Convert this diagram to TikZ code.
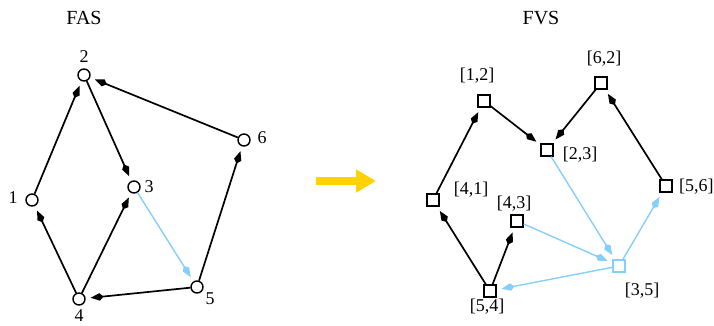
\documentclass[tikz,border=0pt]{standalone}
\usepackage{fontspec}
\setmainfont{Liberation Serif}
\usetikzlibrary{arrows.meta}
\definecolor{skyb}{RGB}{135,206,250}
\definecolor{gold}{RGB}{255,210,0}
\begin{document}
\begin{tikzpicture}[x=1bp,y=-1bp,
  vtx/.style={circle,draw=black,fill=white,line width=1.4bp,inner sep=0pt,minimum size=12bp},
  sq/.style={rectangle,draw=black,fill=white,line width=1.4bp,inner sep=0pt,minimum size=12bp},
  sqb/.style={sq,draw=skyb},
  lbl/.style={font=\fontsize{18bp}{20bp}\selectfont,inner sep=0pt},
  ttl/.style={font=\fontsize{20bp}{22bp}\selectfont,inner sep=0pt},
  edge/.style={line width=1.7bp,-{Kite[length=13bp,width=7.5bp,inset=4bp]},shorten >=5bp},
  bedge/.style={edge,draw=skyb,line width=1.4bp}]
\useasboundingbox (0,0) rectangle (714,325);
\node[ttl] (t1) at (84,18) {FAS};
\node[ttl] (t2) at (541,18) {FVS};
% left graph
\node[vtx] (n2) at (84,75) {};
\node[vtx] (n1) at (32,200) {};
\node[vtx] (n3) at (134,187) {};
\node[vtx] (n6) at (244,140) {};
\node[vtx] (n4) at (79,299) {};
\node[vtx] (n5) at (197,287) {};
\node[lbl] (l2) at (84,57) {2};
\node[lbl] (l1) at (13,198) {1};
\node[lbl] (l3) at (149,187) {3};
\node[lbl] (l6) at (262,138) {6};
\node[lbl] (l4) at (79,316) {4};
\node[lbl] (l5) at (210,299) {5};
\draw[edge] (n1) -- (n2);
\draw[edge] (n2) -- (n3);
\draw[edge] (n6) -- (n2);
\draw[edge] (n4) -- (n1);
\draw[edge] (n4) -- (n3);
\draw[edge] (n5) -- (n4);
\draw[edge] (n5) -- (n6);
\draw[bedge] (n3) -- (n5);
% big arrow
\coordinate (a1) at (316,181);
\coordinate (a2) at (376,181);
\draw[gold,line width=8bp,-{Triangle[length=20bp,width=22bp]}] (a1) -- (a2);
% right graph
\node[sq] (s12) at (484,101) {};
\node[sq] (s62) at (601,83) {};
\node[sq] (s23) at (547,150) {};
\node[sq] (s56) at (666,186) {};
\node[sq] (s41) at (433,200) {};
\node[sq] (s43) at (517,221) {};
\node[sqb] (s35) at (619,266) {};
\node[sq] (s54) at (490,291) {};
\node[lbl] (m12) at (477,76) {[1,2]};
\node[lbl] (m62) at (604,59) {[6,2]};
\node[lbl] (m23) at (580,155) {[2,3]};
\node[lbl,anchor=west] (m56) at (679,187) {[5,6]};
\node[lbl] (m41) at (471,190) {[4,1]};
\node[lbl] (m43) at (514,204) {[4,3]};
\node[lbl] (m35) at (642,291) {[3,5]};
\node[lbl] (m54) at (487,307) {[5,4]};
\draw[edge] (s41) -- (s12);
\draw[edge] (s12) -- (s23);
\draw[edge] (s62) -- (s23);
\draw[edge] (s56) -- (s62);
\draw[edge] (s54) -- (s41);
\draw[edge] (s54) -- (s43);
\draw[bedge] (s23) -- (s35);
\draw[bedge] (s43) -- (s35);
\draw[bedge] (s35) -- (s56);
\draw[bedge] (s35) -- (s54);
\end{tikzpicture}
\end{document}
